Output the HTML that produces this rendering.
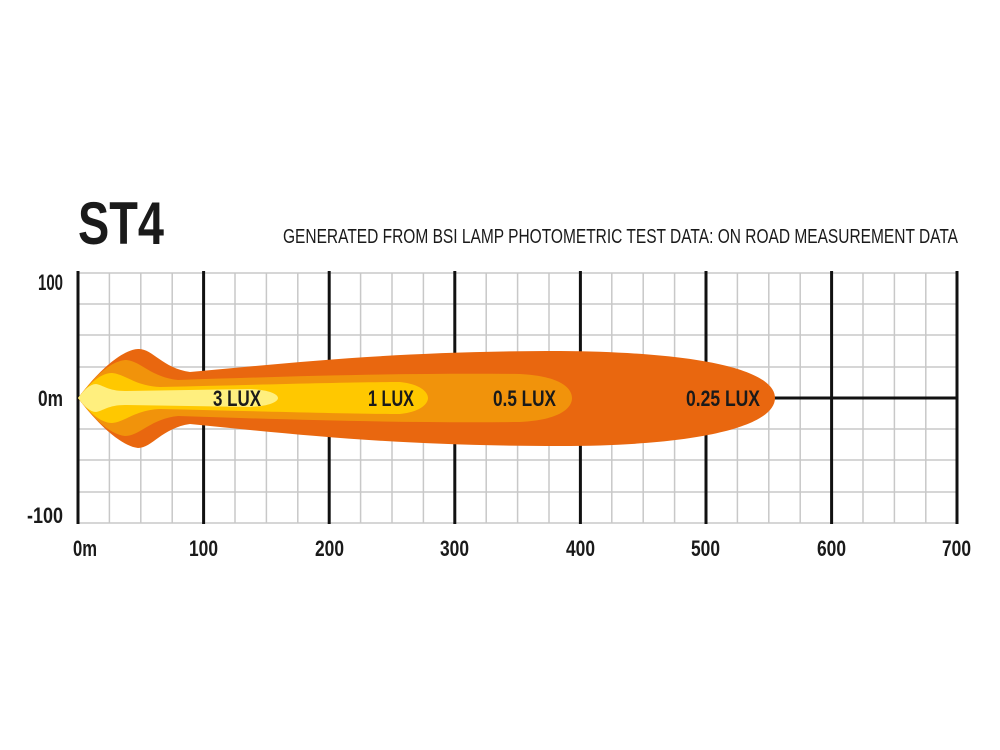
<!DOCTYPE html>
<html><head><style>
html,body{margin:0;padding:0;background:#fff;}
svg{display:block;}
text{font-family:"Liberation Sans Narrow","Liberation Sans",sans-serif;}
</style></head><body>
<svg width="1000" height="750" viewBox="0 0 1000 750" xmlns="http://www.w3.org/2000/svg">
<rect width="1000" height="750" fill="#fff"/>
<text x="78" y="244" font-size="60" font-weight="bold" fill="#1a1a1a" textLength="86" lengthAdjust="spacingAndGlyphs">ST4</text>
<text x="283" y="243" font-size="20" fill="#1a1a1a" textLength="675" lengthAdjust="spacingAndGlyphs">GENERATED FROM BSI LAMP PHOTOMETRIC TEST DATA: ON ROAD MEASUREMENT DATA</text>
<g stroke="#c8c8c8" stroke-width="1.5">
<line x1="78" y1="273" x2="957" y2="273"/><line x1="78" y1="304" x2="957" y2="304"/>
<line x1="78" y1="335" x2="957" y2="335"/><line x1="78" y1="367" x2="957" y2="367"/>
<line x1="78" y1="429" x2="957" y2="429"/><line x1="78" y1="460" x2="957" y2="460"/>
<line x1="78" y1="492" x2="957" y2="492"/><line x1="78" y1="523" x2="957" y2="523"/>
<line x1="78" y1="398" x2="957" y2="398"/>
<line x1="109.4" y1="273" x2="109.4" y2="523"/><line x1="140.8" y1="273" x2="140.8" y2="523"/><line x1="172.2" y1="273" x2="172.2" y2="523"/>
<line x1="235" y1="273" x2="235" y2="523"/><line x1="266.4" y1="273" x2="266.4" y2="523"/><line x1="297.8" y1="273" x2="297.8" y2="523"/>
<line x1="360.6" y1="273" x2="360.6" y2="523"/><line x1="392" y1="273" x2="392" y2="523"/><line x1="423.4" y1="273" x2="423.4" y2="523"/>
<line x1="486.2" y1="273" x2="486.2" y2="523"/><line x1="517.6" y1="273" x2="517.6" y2="523"/><line x1="549" y1="273" x2="549" y2="523"/>
<line x1="611.8" y1="273" x2="611.8" y2="523"/><line x1="643.2" y1="273" x2="643.2" y2="523"/><line x1="674.6" y1="273" x2="674.6" y2="523"/>
<line x1="737.4" y1="273" x2="737.4" y2="523"/><line x1="768.8" y1="273" x2="768.8" y2="523"/><line x1="800.2" y1="273" x2="800.2" y2="523"/>
<line x1="863" y1="273" x2="863" y2="523"/><line x1="894.4" y1="273" x2="894.4" y2="523"/><line x1="925.8" y1="273" x2="925.8" y2="523"/>
</g>
<g stroke="#111" stroke-width="3">
<line x1="78" y1="271" x2="78" y2="524"/><line x1="203.6" y1="271" x2="203.6" y2="524"/>
<line x1="329.2" y1="271" x2="329.2" y2="524"/><line x1="454.8" y1="271" x2="454.8" y2="524"/>
<line x1="580.4" y1="271" x2="580.4" y2="524"/><line x1="706" y1="271" x2="706" y2="524"/>
<line x1="831.6" y1="271" x2="831.6" y2="524"/><line x1="957" y1="271" x2="957" y2="524"/>
<line x1="760" y1="398" x2="957" y2="398"/>
</g>
<path fill="#E9670F" d="M78,398 C95,375 120,350 138,349 C152,348 162,368 190,372 C300,362 400,351 560,351 C700,352 775,370 775,398 C775,426 700,446 560,446 C400,446 300,435 190,424 C162,428 152,448 138,448 C120,446 95,421 78,398Z"/>
<path fill="#F1930B" d="M78,398 C92,380 108,362 125,360 C140,360 150,377 178,380 C300,376 400,373 520,374 C560,376 572,388 572,398 C572,408 560,420 520,422 C400,423 300,420 178,416 C150,419 140,436 125,436 C108,434 92,416 78,398Z"/>
<path fill="#FFC800" d="M78,398 C88,385 100,373 112,373 C125,374 135,386 160,387 C250,385 350,382 400,382 C420,384 428,392 428,398 C428,404 420,412 400,414 C350,414 250,411 160,409 C135,410 125,422 112,423 C100,423 88,411 78,398Z"/>
<path fill="#FFEF7E" d="M78,398 C84,390 90,384 96,384 C103,385 108,391 125,391 L250,389 C272,390 278,395 278,398 C278,401 272,406 250,407 L125,405 C108,405 103,411 96,412 C90,412 84,406 78,398Z"/>
<g font-weight="bold" font-size="22" fill="#1a1a1a" lengthAdjust="spacingAndGlyphs">
<text x="213" y="406" textLength="48" lengthAdjust="spacingAndGlyphs">3 LUX</text>
<text x="368" y="406" textLength="46" lengthAdjust="spacingAndGlyphs">1 LUX</text>
<text x="493" y="406" textLength="63" lengthAdjust="spacingAndGlyphs">0.5 LUX</text>
<text x="686" y="406" textLength="74" lengthAdjust="spacingAndGlyphs">0.25 LUX</text>
</g>
<g font-weight="bold" font-size="22" fill="#1a1a1a">
<text x="38" y="290" textLength="25" lengthAdjust="spacingAndGlyphs">100</text>
<text x="38" y="406" textLength="25" lengthAdjust="spacingAndGlyphs">0m</text>
<text x="27" y="523" textLength="36" lengthAdjust="spacingAndGlyphs">-100</text>
</g>
<g font-weight="bold" font-size="22" fill="#1a1a1a">
<text x="73" y="556" textLength="24" lengthAdjust="spacingAndGlyphs">0m</text>
<text x="189" y="556" textLength="29" lengthAdjust="spacingAndGlyphs">100</text>
<text x="315" y="556" textLength="29" lengthAdjust="spacingAndGlyphs">200</text>
<text x="440" y="556" textLength="29" lengthAdjust="spacingAndGlyphs">300</text>
<text x="566" y="556" textLength="29" lengthAdjust="spacingAndGlyphs">400</text>
<text x="691" y="556" textLength="29" lengthAdjust="spacingAndGlyphs">500</text>
<text x="817" y="556" textLength="29" lengthAdjust="spacingAndGlyphs">600</text>
<text x="942" y="556" textLength="29" lengthAdjust="spacingAndGlyphs">700</text>
</g>
</svg>
</body></html>
